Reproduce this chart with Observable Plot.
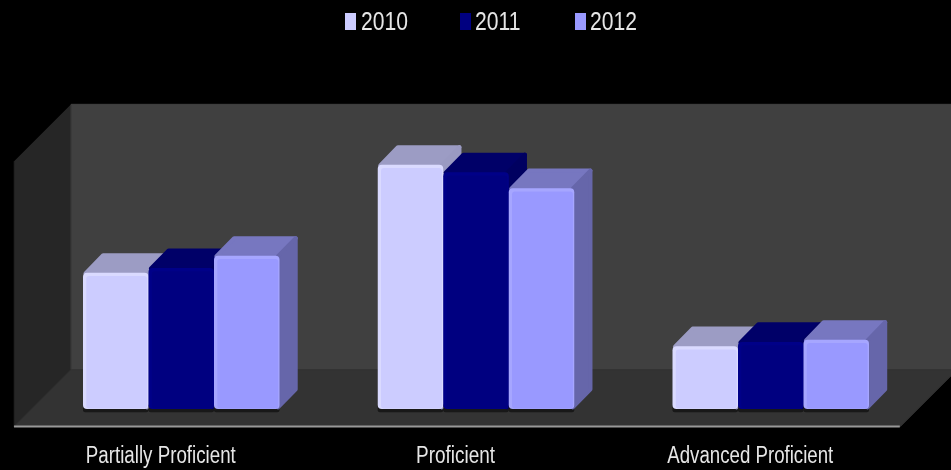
<!DOCTYPE html>
<html>
<head>
<meta charset="utf-8">
<script src="https://cdn.jsdelivr.net/npm/d3@7"></script>
<script src="https://cdn.jsdelivr.net/npm/@observablehq/plot@0.6"></script>
<style>
  html, body { margin: 0; padding: 0; background: #000; width: 951px; height: 470px; overflow: hidden; }
  #legend { position: relative; height: 40px; width: 951px; font-family: "Liberation Sans", sans-serif; font-size: 25px; color: #e6e6e6; filter: blur(0.5px); }
  #legend .sw { position: absolute; top: 13px; width: 11px; height: 17px; }
  #legend .lb { position: absolute; top: 7px; line-height: 28px; transform: scaleX(0.845); transform-origin: left center; }
  #chart svg { display: block; filter: blur(0.5px); }
</style>
</head>
<body>
<div id="legend"></div>
<div id="chart"></div>
<script>
const categories = ["Partially Proficient", "Proficient", "Advanced Proficient"];
const years = ["2010", "2011", "2012"];
const values2010 = [25.6, 45.9, 11.8];
const values2011 = [26.5, 44.5, 12.6];
const values2012 = [28.8, 41.5, 13.0];
const frontColors = ["#CCCCFF", "#000080", "#9999FF"];
const topColors = ["#9C9CC4", "#000068", "#7777C0"];
const sideColors = ["#9A9AC2", "#000060", "#6666AA"];
const edgeColors = ["#DADAFF", "#000088", "#A6A6FF"];
const labelWidths = [150, 79, 166];

const series = [values2010, values2011, values2012];
const groupStep = 4.5;
const depthX = 0.27, depthY = 3.8;
const wallX = 0.87, wallY = 10.71;
const left = -1.053, right = 12.47, floorY = -3.2, wallTop = 46.65;

const poly = pts => pts.map(([x, y]) => ({x, y}));
const face = (pts, fill) => Plot.line(poly(pts), {x: "x", y: "y", fill, stroke: fill, strokeWidth: 1, curve: "linear-closed"});

const walls = [
  face([[left, floorY], [left + wallX, floorY + wallY], [left + wallX, wallTop + wallY], [left, wallTop]], "#262626"),
  face([[left + wallX, floorY + wallY], [right + wallX + 1, floorY + wallY], [right + wallX + 1, wallTop + wallY], [left + wallX, wallTop + wallY]], "#404040"),
  face([[left, floorY], [right, floorY], [right + wallX, floorY + wallY], [left + wallX, floorY + wallY]], "#333333"),
  Plot.ruleY([floorY], {x1: left, x2: right, stroke: "#999999", strokeWidth: 2})
];

const rows = categories.flatMap((c, i) => series.map((s, j) => ({
  category: c, year: years[j], value: s[i], j, x0: i * groupStep + j, x1: i * groupStep + j + 1
})));

const roundFace = (pts, fill) => Plot.line(poly(pts), {x: "x", y: "y", fill, stroke: fill, strokeWidth: 4, strokeLinejoin: "round", curve: "linear-closed"});

const inX = 0.03, inY = 0.4;
const bars = rows.flatMap(r => [
  Plot.rect([r], {x1: "x0", x2: "x1", y1: -0.6, y2: 1, fill: "#111", rx: 2, opacity: 0.8}),
  roundFace([[r.x0 + inX, r.value], [r.x1 - inX, r.value], [r.x1 + depthX - inX, r.value + depthY - inY], [r.x0 + depthX + inX, r.value + depthY - inY]], topColors[r.j]),
  roundFace([[r.x1 - inX, r.value], [r.x1 + depthX - inX, r.value + depthY - inY], [r.x1 + depthX - inX, depthY], [r.x1 - inX, 0.4]], sideColors[r.j]),
  Plot.rect([r], {x1: "x0", x2: "x1", y1: 0, y2: "value", fill: edgeColors[r.j], rx: 4}),
  Plot.rect([r], {x1: d => d.x0 + 0.05, x2: d => d.x1 - 0.02, y1: 0.1, y2: d => d.value - 0.6, fill: frontColors[r.j], rx: 3})
]);

const chart = Plot.plot({
  width: 951,
  height: 430,
  marginTop: 0, marginRight: 0, marginLeft: 0, marginBottom: 44,
  style: {background: "#000"},
  x: {domain: [-83 / 65.5, (951 - 83) / 65.5], axis: null},
  y: {domain: [floorY, 69.36], axis: null},
  marks: [
    ...walls,
    ...bars,
    Plot.axisX({
      ticks: categories.map((c, i) => i * groupStep + 1.18),
      tickFormat: (d) => categories[Math.round((d - 1.18) / groupStep)],
      tickSize: 0, tickPadding: 20.5,
      fontSize: 23, fill: "#e6e6e6", stroke: "none",
      fontFamily: "Liberation Sans, sans-serif",
      label: null
    })
  ]
});
d3.select(chart).selectAll("text").each(function() {
  const i = categories.indexOf(this.textContent);
  if (i >= 0) {
    this.setAttribute("textLength", labelWidths[i]);
    this.setAttribute("lengthAdjust", "spacingAndGlyphs");
  }
});
document.getElementById("chart").appendChild(chart);

const legend = document.getElementById("legend");
const swX = [345, 460, 575], lbX = [361, 475, 590];
years.forEach((y, i) => {
  const s = document.createElement("div"); s.className = "sw"; s.style.left = swX[i] + "px"; s.style.background = frontColors[i];
  const t = document.createElement("div"); t.className = "lb"; t.style.left = lbX[i] + "px"; t.textContent = y;
  legend.append(s, t);
});
</script>
</body>
</html>
